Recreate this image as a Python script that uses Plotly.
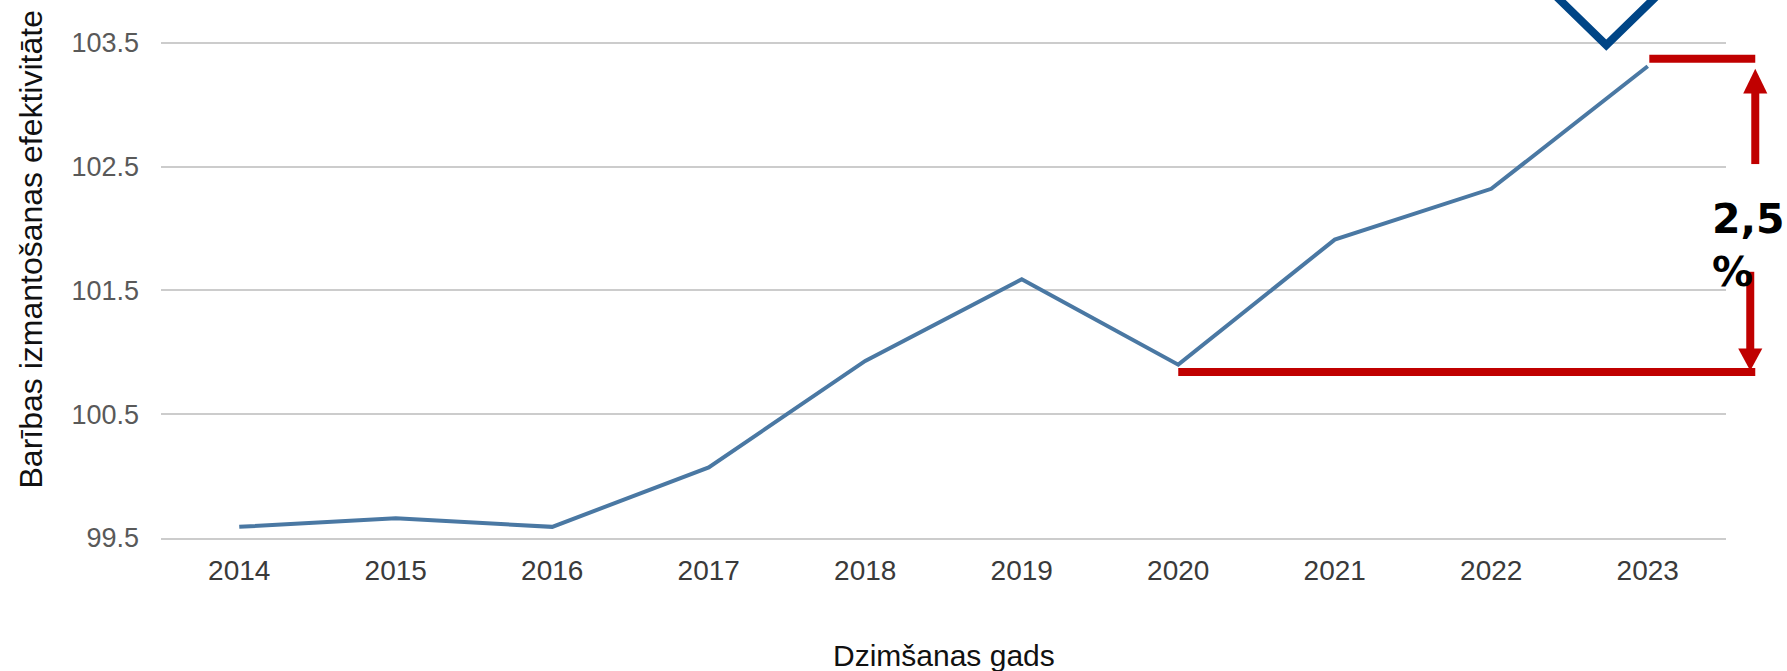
import plotly.graph_objects as go

# ---- data ----
years = ["2014", "2015", "2016", "2017", "2018", "2019", "2020", "2021", "2022", "2023"]
efficiency = [99.59, 99.66, 99.59, 100.07, 100.93, 101.59, 100.90, 101.91, 102.32, 103.31]
y_tick_vals = [99.5, 100.5, 101.5, 102.5, 103.5]
y_tick_text = ["99.5", "100.5", "101.5", "102.5", "103.5"]
change_label = "2,5<br>%"
low_level = 100.84
high_level = 103.37

# ---- layout constants ----
W, H = 1787, 671
ML, MR, MT, MB = 161, 61, 0, 133
X_RANGE = [-0.5, len(years) - 0.5]
Y_RANGE = [99.5, 103.845]

LINE_COLOR = "#4a78a3"
RED = "#c00000"
NAVY = "#004586"


def px_(i):
    return (i - X_RANGE[0]) / (X_RANGE[1] - X_RANGE[0])


def py_(v):
    return (v - Y_RANGE[0]) / (Y_RANGE[1] - Y_RANGE[0])


fig = go.Figure()
fig.add_trace(go.Scatter(
    x=list(range(len(years))), y=efficiency, mode="lines",
    line=dict(color=LINE_COLOR, width=4), showlegend=False, hoverinfo="x+y",
))

shapes = []
arrow_x_up = 9.687
arrow_x_dn = 9.655
# red level lines
shapes.append(dict(type="line", xref="paper", yref="paper",
                   x0=px_(6), x1=px_(9.687), y0=py_(low_level), y1=py_(low_level),
                   line=dict(color=RED, width=8)))
shapes.append(dict(type="line", xref="paper", yref="paper",
                   x0=px_(9.01), x1=px_(9.687), y0=py_(high_level), y1=py_(high_level),
                   line=dict(color=RED, width=8)))
# up arrow shaft + head
shapes.append(dict(type="line", xref="paper", yref="paper",
                   x0=px_(arrow_x_up), x1=px_(arrow_x_up), y0=py_(102.52), y1=py_(103.10),
                   line=dict(color=RED, width=8)))
hw = 0.077
shapes.append(dict(type="path", xref="paper", yref="paper",
                   path=f"M {px_(arrow_x_up - hw)} {py_(103.09)} L {px_(arrow_x_up + hw)} {py_(103.09)} "
                        f"L {px_(arrow_x_up)} {py_(103.29)} Z",
                   fillcolor=RED, line=dict(color=RED, width=0)))
# down arrow shaft + head
shapes.append(dict(type="line", xref="paper", yref="paper",
                   x0=px_(arrow_x_dn), x1=px_(arrow_x_dn), y0=py_(101.65), y1=py_(101.02),
                   line=dict(color=RED, width=8)))
shapes.append(dict(type="path", xref="paper", yref="paper",
                   path=f"M {px_(arrow_x_dn - hw)} {py_(101.03)} L {px_(arrow_x_dn + hw)} {py_(101.03)} "
                        f"L {px_(arrow_x_dn)} {py_(100.85)} Z",
                   fillcolor=RED, line=dict(color=RED, width=0)))
# navy chevron
shapes.append(dict(type="path", xref="paper", yref="paper",
                   path=f"M {px_(8.37)} {py_(103.93)} L {px_(8.735)} {py_(103.48)} L {px_(9.10)} {py_(103.93)}",
                   line=dict(color=NAVY, width=8)))

annotations = [
    dict(text=change_label, xref="paper", yref="paper", x=px_(9.40), y=py_(101.86),
         xanchor="left", yanchor="middle", showarrow=False, align="left",
         font=dict(family="DejaVu Sans", size=41, color="#000000", weight="bold")),
    dict(text="Barības izmantošanas efektivitāte", xref="paper", yref="paper",
         x=(31 - ML) / (W - ML - MR), y=(538 - 249.5) / 538, textangle=-90,
         xanchor="center", yanchor="middle", showarrow=False,
         font=dict(family="Liberation Sans, Arial", size=32, color="#111111")),
    dict(text="Dzimšanas gads", xref="paper", yref="paper",
         x=0.5, y=(538 - 655) / 538, xanchor="center", yanchor="middle", showarrow=False,
         font=dict(family="Liberation Sans, Arial", size=30, color="#111111")),
]

fig.update_layout(
    width=W, height=H,
    margin=dict(l=ML, r=MR, t=MT, b=MB),
    paper_bgcolor="white", plot_bgcolor="white",
    shapes=shapes, annotations=annotations,
    xaxis=dict(range=X_RANGE, tickmode="array", tickvals=list(range(len(years))), ticktext=years,
               showgrid=False, zeroline=False, showline=True, linecolor="#cccccc", linewidth=2,
               ticks="", ticklabelstandoff=6,
               tickfont=dict(family="Liberation Sans, Arial", size=28, color="#3a3a3a")),
    yaxis=dict(range=Y_RANGE, tickmode="array", tickvals=y_tick_vals, ticktext=y_tick_text,
               showgrid=True, gridcolor="#cccccc", gridwidth=2, zeroline=False, showline=False,
               ticks="", ticklabelstandoff=21,
               tickfont=dict(family="Liberation Sans, Arial", size=27, color="#595959")),
)

fig.write_html("out.html", config={"displayModeBar": False},
               post_script="document.body.style.margin='0';document.body.style.overflow='hidden';")
